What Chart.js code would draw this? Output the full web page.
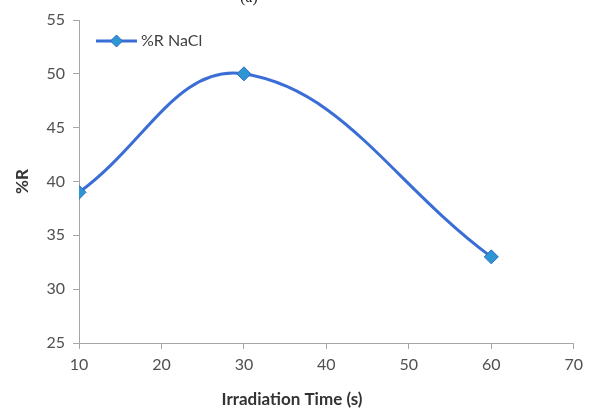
<!DOCTYPE html>
<html>
<head>
<meta charset="utf-8">
<script src="https://cdn.jsdelivr.net/npm/chart.js@4/dist/chart.umd.min.js"></script>
<style>
  html, body { margin: 0; padding: 0; background: #fff; }
  #wrap { position: relative; width: 589px; height: 410px; overflow: hidden; }
  #panel { position: absolute; left: 240px; top: -12px; font: 16px "Liberation Serif", serif; color: #222; }
</style>
</head>
<body>
<div id="wrap">
  <canvas id="c" width="589" height="410"></canvas>
  <div id="panel">(a)</div>
</div>
<script>
// %R vs irradiation time, panel (a)
const SERIES_LABEL = '%R NaCl';
const X_TITLE = 'Irradiation Time (s)';
const timeSec = [10, 30, 60];
const percentR = [39, 50, 33];

const LINE_BLUE = '#3A6ED6';
const MARK_BLUE = '#2F96D4';
const AXIS_GREY = '#A6A6A6';
const TEXT_GREY = '#505050';

// legend inside the plot (top-left) and the x title, which sits left of centre in the original
const extraText = {
  id: 'extraText',
  afterDraw(chart) {
    const ctx = chart.ctx;
    const x0 = 96, y0 = 41;
    ctx.save();
    ctx.strokeStyle = LINE_BLUE;
    ctx.lineWidth = 3;
    ctx.beginPath();
    ctx.moveTo(x0, y0);
    ctx.lineTo(x0 + 41, y0);
    ctx.stroke();
    const mx = x0 + 20.5, r = 6;
    ctx.fillStyle = MARK_BLUE;
    ctx.strokeStyle = '#2E6CC4';
    ctx.lineWidth = 1;
    ctx.beginPath();
    ctx.moveTo(mx, y0 - r);
    ctx.lineTo(mx + r, y0);
    ctx.lineTo(mx, y0 + r);
    ctx.lineTo(mx - r, y0);
    ctx.closePath();
    ctx.fill();
    ctx.stroke();
    ctx.fillStyle = '#404040';
    ctx.font = '16px Lato';
    ctx.textBaseline = 'middle';
    ctx.fillText(SERIES_LABEL, x0 + 45, y0);

    ctx.fillStyle = '#333';
    ctx.font = 'bold 17px Lato';
    ctx.textAlign = 'center';
    ctx.fillText(X_TITLE, 292, 400);
    ctx.restore();
  }
};

new Chart(document.getElementById('c'), {
  type: 'line',
  data: {
    datasets: [{
      label: SERIES_LABEL,
      data: timeSec.map((t, i) => ({ x: t, y: percentR[i] })),
      borderColor: LINE_BLUE,
      borderWidth: 3,
      tension: 0.4,
      pointStyle: 'rectRot',
      pointRadius: 7,
      pointBackgroundColor: MARK_BLUE,
      pointBorderColor: '#2E6CC4',
      pointBorderWidth: 1,
      fill: false
    }]
  },
  options: {
    responsive: false,
    animation: false,
    layout: { padding: { top: 20, right: 14, left: 0, bottom: 0 } },
    plugins: {
      legend: { display: false },
      tooltip: { enabled: false }
    },
    scales: {
      x: {
        type: 'linear',
        min: 10,
        max: 70,
        ticks: {
          stepSize: 10,
          color: TEXT_GREY,
          font: { family: 'Lato', size: 16 },
          padding: 6
        },
        grid: { drawOnChartArea: false, color: AXIS_GREY, tickLength: 6 },
        border: { color: AXIS_GREY },
        afterFit(scale) { scale.height = 67; }
      },
      y: {
        min: 25,
        max: 55,
        ticks: {
          stepSize: 5,
          color: TEXT_GREY,
          font: { family: 'Lato', size: 16 },
          padding: 8
        },
        grid: { drawOnChartArea: false, color: AXIS_GREY, tickLength: 6 },
        border: { color: AXIS_GREY },
        title: {
          display: true,
          text: '%R',
          color: '#333',
          font: { family: 'Lato', size: 17, weight: 'bold' },
          padding: { top: 12, bottom: 4 }
        },
        afterFit(scale) { scale.width = 79; }
      }
    }
  },
  plugins: [extraText]
});
</script>
</body>
</html>
